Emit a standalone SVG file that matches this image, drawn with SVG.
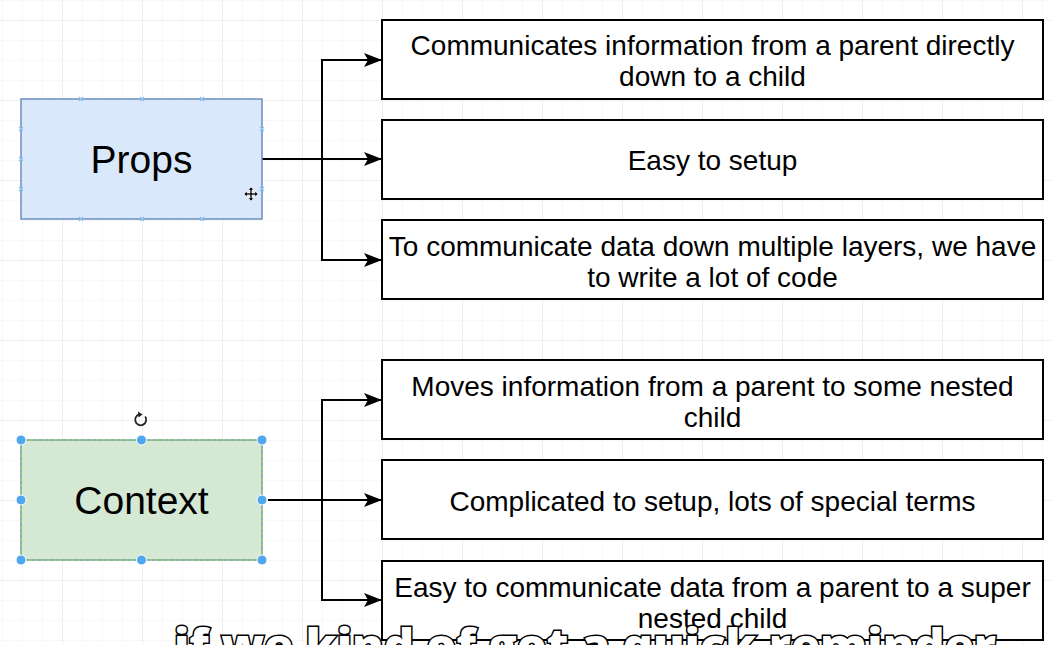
<svg xmlns="http://www.w3.org/2000/svg" width="1052" height="645" viewBox="0 0 1052 645">
<defs>
<pattern id="minor" x="2" y="0" width="20" height="20" patternUnits="userSpaceOnUse">
<path d="M0,0 V20 M0,0 H20" fill="none" stroke="#f2f2f2" stroke-width="1"/>
</pattern>
<pattern id="major" x="62" y="20" width="80" height="80" patternUnits="userSpaceOnUse">
<path d="M0,0 V80 M0,0 H80" fill="none" stroke="#e6e6e6" stroke-width="1"/>
</pattern>
<marker id="arrow" markerUnits="userSpaceOnUse" viewBox="0 0 18 14" refX="18" refY="7" markerWidth="18" markerHeight="14" orient="auto">
<path d="M0,0 L18,7 L0,14 L4,7 Z" fill="#000"/>
</marker>
<style>
.box{fill:#fff;stroke:#000;stroke-width:2}
.t{font-family:"Liberation Sans",Arial,sans-serif;font-size:28px;fill:#000;text-anchor:middle}
.big{font-family:"Liberation Sans",Arial,sans-serif;font-size:39px;fill:#000;text-anchor:middle}
.conn{fill:none;stroke:#000;stroke-width:2;marker-end:url(#arrow)}
.h{fill:#4fa7ee;stroke:#fff;stroke-width:1}
.cp{stroke:#8cc3ee;stroke-width:1.2;fill:none}
.sub{font-family:"Open Sans","DejaVu Sans",sans-serif;font-weight:800;font-size:46px;fill:#fff;stroke:#000;stroke-width:3;paint-order:stroke}
</style>
</defs>
<rect x="0" y="0" width="1052" height="645" fill="#fff"/>
<rect x="0" y="0" width="1052" height="645" fill="url(#minor)"/>
<rect x="0" y="0" width="1052" height="645" fill="url(#major)"/>

<g id="connectors">
<path class="conn" d="M262,159 H382"/>
<path class="conn" d="M322,159 V60 H382"/>
<path class="conn" d="M322,159 V260 H382"/>
<path class="conn" d="M268,500 H382"/>
<path class="conn" d="M322,500 V400 H382"/>
<path class="conn" d="M322,500 V600 H382"/>
</g>

<g id="props">
<rect x="21" y="99" width="241" height="120" fill="#dae8fc" stroke="#6c8ebf" stroke-width="1.5"/>
<text class="big" x="141.5" y="173">Props</text>
<path class="cp" d="M79,97 l4,4 m0,-4 l-4,4 M140,97 l4,4 m0,-4 l-4,4 M200,97 l4,4 m0,-4 l-4,4 M79,217 l4,4 m0,-4 l-4,4 M140,217 l4,4 m0,-4 l-4,4 M200,217 l4,4 m0,-4 l-4,4 M19,127 l4,4 m0,-4 l-4,4 M19,157 l4,4 m0,-4 l-4,4 M19,187 l4,4 m0,-4 l-4,4 M260,127 l4,4 m0,-4 l-4,4 M260,187 l4,4 m0,-4 l-4,4"/>
<g transform="translate(251,194)" fill="#111" stroke="#fff" stroke-width="0.6">
<path d="M0,-7 L3,-4 L1,-4 L1,-1 L4,-1 L4,-3 L7,0 L4,3 L4,1 L1,1 L1,4 L3,4 L0,7 L-3,4 L-1,4 L-1,1 L-4,1 L-4,3 L-7,0 L-4,-3 L-4,-1 L-1,-1 L-1,-4 L-3,-4 Z"/>
</g>
</g>

<g id="context">
<rect x="21" y="440" width="241" height="120" fill="#d5e8d4" stroke="#82b366" stroke-width="1.5"/>
<rect x="21" y="440" width="241" height="120" fill="none" stroke="#6fa3d8" stroke-width="1" stroke-dasharray="3 3"/>
<text class="big" x="141.5" y="514">Context</text>
<circle class="h" cx="21" cy="440" r="5"/>
<circle class="h" cx="141.5" cy="440" r="5"/>
<circle class="h" cx="262" cy="440" r="5"/>
<circle class="h" cx="21" cy="500" r="5"/>
<circle class="h" cx="262" cy="500" r="5"/>
<circle class="h" cx="21" cy="560" r="5"/>
<circle class="h" cx="141.5" cy="560" r="5"/>
<circle class="h" cx="262" cy="560" r="5"/>
<g transform="translate(141,420)">
<path d="M-1.5,-5.6 A5.5,5.5 0 1 0 4.2,-3.4" fill="none" stroke="#222" stroke-width="1.8"/>
<path d="M-3,-8.5 L1.5,-5.6 L-2.5,-2.5 Z" fill="#222"/>
</g>
</g>

<g id="box1">
<rect class="box" x="382" y="20" width="661" height="79"/>
<text class="t" x="712.5" y="55">Communicates information from a parent directly</text>
<text class="t" x="712.5" y="86">down to a child</text>
</g>
<g id="box2">
<rect class="box" x="382" y="120" width="661" height="79"/>
<text class="t" x="712.5" y="170">Easy to setup</text>
</g>
<g id="box3">
<rect class="box" x="382" y="220" width="661" height="79"/>
<text class="t" x="712.5" y="256">To communicate data down multiple layers, we have</text>
<text class="t" x="712.5" y="287">to write a lot of code</text>
</g>
<g id="box4">
<rect class="box" x="382" y="360" width="661" height="79"/>
<text class="t" x="712.5" y="396">Moves information from a parent to some nested</text>
<text class="t" x="712.5" y="427">child</text>
</g>
<g id="box5">
<rect class="box" x="382" y="460" width="661" height="79"/>
<text class="t" x="712.5" y="511">Complicated to setup, lots of special terms</text>
</g>
<g id="box6">
<rect class="box" x="382" y="561" width="661" height="79"/>
<text class="t" x="712.5" y="597">Easy to communicate data from a parent to a super</text>
<text class="t" x="712.5" y="628">nested child</text>
</g>

<text class="sub" x="174" y="662" textLength="822" lengthAdjust="spacingAndGlyphs">if we kind of got a quick reminder</text>
</svg>
